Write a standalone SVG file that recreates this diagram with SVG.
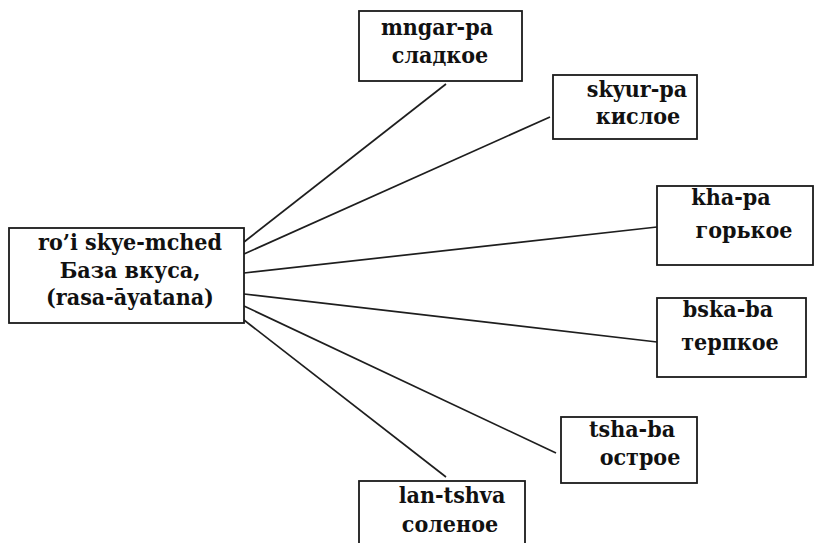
<svg xmlns="http://www.w3.org/2000/svg" width="814" height="543" viewBox="0 0 814 543">
  <style>
    .box { fill: #ffffff; stroke: #1a1a1a; stroke-width: 1.8; }
    .lbl { font-family: 'DejaVu Serif', serif; font-stretch: condensed; font-weight: 700; font-size: 23px; fill: #111111; text-anchor: middle; }
    .edge { stroke: #1e1e1e; stroke-width: 1.7; fill: none; }
  </style>
  <rect x="0" y="0" width="814" height="543" fill="#ffffff"/>

  <!-- connectors from the central node -->
  <g id="connectors">
    <line class="edge" x1="244" y1="242" x2="446" y2="84"/>
    <line class="edge" x1="244" y1="254" x2="550" y2="117"/>
    <line class="edge" x1="244" y1="273" x2="657" y2="227"/>
    <line class="edge" x1="244" y1="294" x2="657" y2="342"/>
    <line class="edge" x1="244" y1="306" x2="556" y2="453"/>
    <line class="edge" x1="244" y1="320" x2="446" y2="477"/>
  </g>

  <g id="node-center">
    <rect class="box" x="9" y="228" width="235" height="95"/>
    <text class="lbl" x="130" y="250">ro’i skye-mched</text>
    <text class="lbl" x="130" y="278">База вкуса,</text>
    <text class="lbl" x="130" y="305">(rasa-āyatana)</text>
  </g>

  <g id="node-mngar">
    <rect class="box" x="359" y="11" width="163" height="70"/>
    <text class="lbl" x="437" y="35">mngar-pa</text>
    <text class="lbl" x="440" y="63">сладкое</text>
  </g>

  <g id="node-skyur">
    <rect class="box" x="553" y="75" width="144" height="64"/>
    <text class="lbl" x="637" y="97">skyur-pa</text>
    <text class="lbl" x="638" y="124">кислое</text>
  </g>

  <g id="node-kha">
    <rect class="box" x="657" y="186" width="156" height="79"/>
    <text class="lbl" x="731" y="205">kha-pa</text>
    <text class="lbl" x="744" y="238">горькое</text>
  </g>

  <g id="node-bska">
    <rect class="box" x="657" y="298" width="149" height="79"/>
    <text class="lbl" x="728" y="317">bska-ba</text>
    <text class="lbl" x="730" y="350">терпкое</text>
  </g>

  <g id="node-tsha">
    <rect class="box" x="561" y="417" width="136" height="66"/>
    <text class="lbl" x="632" y="437">tsha-ba</text>
    <text class="lbl" x="640" y="465">острое</text>
  </g>

  <g id="node-lan">
    <rect class="box" x="359" y="481" width="166" height="70"/>
    <text class="lbl" x="452" y="503">lan-tshva</text>
    <text class="lbl" x="450" y="532">соленое</text>
  </g>
</svg>
